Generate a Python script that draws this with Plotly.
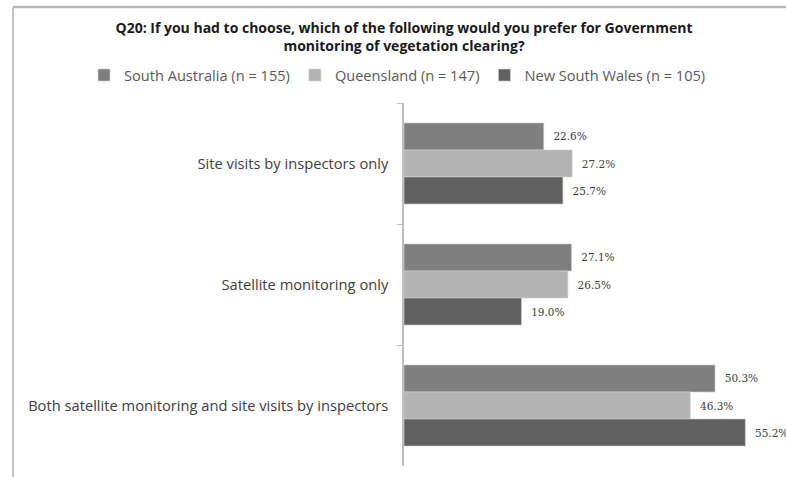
import plotly.graph_objects as go

# survey answers, top to bottom as in the original chart
categories = [
    "Site visits by inspectors only",
    "Satellite monitoring only",
    "Both satellite monitoring and site visits by inspectors",
]
series_names = [
    "South Australia (n = 155)",
    "Queensland (n = 147)",
    "New South Wales (n = 105)",
]
south_australia = [22.6, 27.1, 50.3]
queensland = [27.2, 26.5, 46.3]
new_south_wales = [25.7, 19.0, 55.2]

colors = ["#7f7f7f", "#b3b3b3", "#606060"]
font_family = "'Open Sans', Lato, sans-serif"

fig = go.Figure()
for name, vals, col in zip(series_names, [south_australia, queensland, new_south_wales], colors):
    fig.add_trace(go.Bar(
        y=categories,
        x=vals,
        name=name,
        orientation="h",
        marker=dict(color=col, line=dict(color="#d0d0d0", width=0.6)),
        texttemplate="  %{x:.1f}%",
        textposition="outside",
        textfont=dict(size=10.5, color="#404040", family="'DejaVu Serif', serif"),
        cliponaxis=False,
    ))

# plot area spans x 404..775 and y 103..466 of the page
fig.update_layout(
    width=786,
    height=477,
    barmode="group",
    bargap=0.33,
    bargroupgap=0,
    paper_bgcolor="white",
    plot_bgcolor="white",
    margin=dict(l=404, r=11, t=103, b=11, autoexpand=False),
    font=dict(family=font_family, color="#404040"),
    title=dict(
        text="<b>Q20: If you had to choose, which of the following would you prefer for Government<br>monitoring of vegetation clearing?</b>",
        x=0.514,
        xanchor="center",
        xref="container",
        y=0.931,
        yanchor="middle",
        yref="container",
        font=dict(size=14, color="#1a1a1a", family=font_family),
    ),
    legend=dict(
        orientation="h",
        x=(84 - 404) / 371,
        xref="paper",
        xanchor="left",
        y=1.077,
        yref="paper",
        yanchor="middle",
        font=dict(size=14.6, color="#595959", family=font_family),
        itemwidth=30,
        traceorder="normal",
    ),
    xaxis=dict(
        range=[0, 60],
        visible=False,
        showgrid=False,
        zeroline=False,
    ),
    yaxis=dict(
        autorange=False,
        range=[2.5, -0.5],
        showline=True,
        linecolor="#bfbfbf",
        linewidth=1.5,
        ticks="outside",
        tickson="boundaries",
        ticklen=5,
        tickcolor="#bfbfbf",
        ticklabelstandoff=11,
        tickfont=dict(size=14.7, color="#404040", family=font_family),
        showgrid=False,
    ),
    shapes=[
        # outer chart border (top and left edges are what show in the crop)
        dict(
            type="line",
            xref="paper",
            yref="paper",
            x0=(13 - 404) / 371,
            x1=(786 - 404) / 371,
            y0=(466 - 7) / 363,
            y1=(466 - 7) / 363,
            line=dict(color="#b8b8b8", width=2.5),
            layer="above",
        ),
        dict(
            type="line",
            xref="paper",
            yref="paper",
            x0=(13 - 404) / 371,
            x1=(13 - 404) / 371,
            y0=-0.1,
            y1=(466 - 7) / 363,
            line=dict(color="#c4c4c4", width=2),
            layer="above",
        ),
    ],
)

fig.write_html(
    "out.html",
    config={"displayModeBar": False},
    post_script="document.body.style.margin='0px';",
)
